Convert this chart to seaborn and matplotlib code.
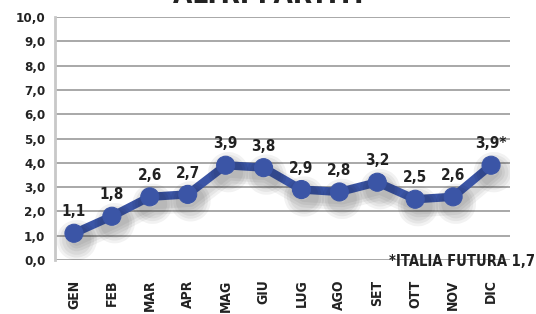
import matplotlib
matplotlib.use("Agg")
import matplotlib.pyplot as plt
import matplotlib.patheffects as pe
import seaborn as sns
import pandas as pd
import numpy as np

months = ["GEN", "FEB", "MAR", "APR", "MAG", "GIU", "LUG", "AGO", "SET", "OTT", "NOV", "DIC"]
values = [1.1, 1.8, 2.6, 2.7, 3.9, 3.8, 2.9, 2.8, 3.2, 2.5, 2.6, 3.9]
labels = ["1,1", "1,8", "2,6", "2,7", "3,9", "3,8", "2,9", "2,8", "3,2", "2,5", "2,6", "3,9*"]
yticks = [0, 1, 2, 3, 4, 5, 6, 7, 8, 9, 10]
title = "ALTRI PARTITI"
note = "*ITALIA FUTURA 1,7"

sns.set_style("white")
plt.rcParams['font.family'] = ['DejaVu Sans']
plt.rcParams['font.stretch'] = 'condensed'

df = pd.DataFrame({"month": months, "value": values})

fig = plt.figure(figsize=(5.36, 3.14), dpi=100)
ax = fig.add_axes([55/536, 54/314, (510-55)/536, (297-54)/314])

blue = "#3b55a6"
shadow = [pe.SimpleLineShadow(offset=(2, -5), shadow_color="black", alpha=0.05, linewidth=lw)
          for lw in (16, 12, 8)]
sns.lineplot(data=df, x="month", y="value", ax=ax, color=blue, linewidth=6,
             marker="o", markersize=13, markeredgecolor=blue, sort=False,
             path_effects=shadow + [pe.Normal()])

ax.set_ylim(0, 10)
ax.set_xlim(-0.5, 11.5)
ax.set_yticks(yticks)
ax.set_yticklabels([f"{v},0" for v in yticks], fontsize=9.5, fontweight="bold", color="#222222")
ax.yaxis.grid(True, color="#9a9a9a", linewidth=1.2)
ax.set_axisbelow(True)

ax.set_xticks(range(len(months)))
ax.set_xticklabels(months, rotation=90, fontsize=10, fontweight="bold", color="#222222")
ax.tick_params(axis="x", length=0, pad=14)
ax.set_xticks(np.arange(-0.5, 12, 1), minor=True)
ax.tick_params(axis="x", which="minor", length=7, width=1.2, color="#9a9a9a")
ax.tick_params(axis="y", length=5, width=1.2, color="#9a9a9a", pad=2)
ax.set_xlabel("")
ax.set_ylabel("")

for s in ["top", "right", "bottom"]:
    ax.spines[s].set_visible(False)
ax.spines["left"].set_color("#c8c8c8")
ax.spines["left"].set_linewidth(2)

for i, (v, lab) in enumerate(zip(values, labels)):
    ax.annotate(lab, (i, v), xytext=(0, 10), textcoords="offset points",
                ha="center", va="bottom", fontsize=11, fontweight="bold", color="#222222")

fig.text(535/536, 1 - 262/314, note, ha="right", va="center", fontsize=10.5,
         fontweight="bold", color="#222222")
fig.text(0.5, 1.0 + 0.015, title, ha="center", va="center", fontsize=20,
         fontweight="bold", color="#222222")

fig.savefig("out.png", dpi=100)
